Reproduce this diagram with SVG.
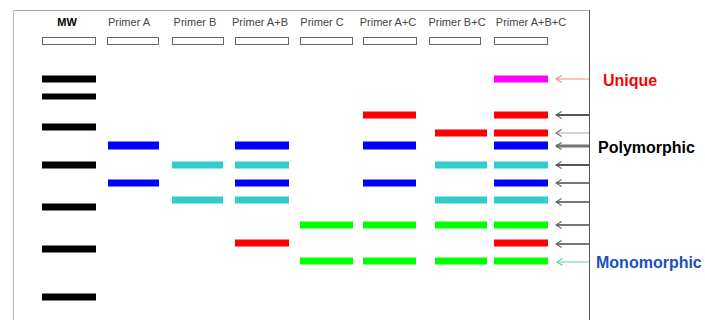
<svg xmlns="http://www.w3.org/2000/svg" width="705" height="320" viewBox="0 0 705 320">
<defs>
<marker id="ahg" viewBox="0 0 10 10" refX="1" refY="5" markerWidth="7" markerHeight="10" markerUnits="userSpaceOnUse">
<path d="M9,0 L1,5 L9,10" fill="none" stroke="#666" stroke-width="1.5"/>
</marker>
<marker id="ahr" viewBox="0 0 10 10" refX="1" refY="5" markerWidth="7" markerHeight="10" markerUnits="userSpaceOnUse">
<path d="M9,0 L1,5 L9,10" fill="none" stroke="#ff8080" stroke-width="1.5"/>
</marker>
<marker id="ahm" viewBox="0 0 10 10" refX="1" refY="5" markerWidth="7" markerHeight="10" markerUnits="userSpaceOnUse">
<path d="M9,0 L1,5 L9,10" fill="none" stroke="#66cc99" stroke-width="1.5"/>
</marker>
</defs>
<style>
.hdr{font-family:"Liberation Sans",Arial,sans-serif;font-size:11px;fill:#444;text-anchor:middle}
.mw{font-weight:bold;fill:#000}
.well{fill:#fff;stroke:#666;stroke-width:1}
.k{fill:#000}.b{fill:#0000ff}.c{fill:#33cccc}.r{fill:#ff0000}.g{fill:#00ff00}.m{fill:#ff00ff}
.lbl{font-family:"Liberation Sans",Arial,sans-serif;font-size:16px;font-weight:bold}
.arr{stroke:#777;stroke-width:2;fill:none;marker-end:url(#ahg)}
</style>
<rect width="705" height="320" fill="#fff"/>
<g id="frame">
<line x1="13" y1="10.5" x2="589" y2="10.5" stroke="#aaa"/>
<line x1="13.5" y1="10" x2="13.5" y2="320" stroke="#bbb"/>
<line x1="589.5" y1="10" x2="589.5" y2="320" stroke="#555"/>
</g>
<g id="lane-mw">
<text class="hdr mw" x="67" y="26">MW</text>
<rect class="well" x="42.5" y="37.5" width="53" height="7"/>
<rect class="k" x="42" y="75.5" width="54" height="7"/>
<rect class="k" x="42" y="93.5" width="54" height="6"/>
<rect class="k" x="42" y="123.5" width="54" height="7"/>
<rect class="k" x="42" y="161.5" width="54" height="7"/>
<rect class="k" x="42" y="203.5" width="54" height="7"/>
<rect class="k" x="42" y="245.5" width="54" height="7"/>
<rect class="k" x="42" y="293.5" width="54" height="7"/>
</g>
<g id="lane-a">
<text class="hdr" x="129" y="26">Primer A</text>
<rect class="well" x="107.5" y="37.5" width="51" height="7"/>
<rect class="b" x="108" y="141.5" width="51" height="8"/>
<rect class="b" x="108" y="179.5" width="51" height="7"/>
</g>
<g id="lane-b">
<text class="hdr" x="195" y="26">Primer B</text>
<rect class="well" x="172.5" y="37.5" width="51" height="7"/>
<rect class="c" x="172" y="161.5" width="51" height="7"/>
<rect class="c" x="172" y="196.5" width="51" height="7"/>
</g>
<g id="lane-ab">
<text class="hdr" x="260" y="26">Primer A+B</text>
<rect class="well" x="235.5" y="37.5" width="53" height="7"/>
<rect class="b" x="235" y="141.5" width="54" height="8"/>
<rect class="c" x="235" y="161.5" width="54" height="7"/>
<rect class="b" x="235" y="179.5" width="54" height="7"/>
<rect class="c" x="235" y="196.5" width="54" height="7"/>
<rect class="r" x="235" y="239.5" width="54" height="7"/>
</g>
<g id="lane-c">
<text class="hdr" x="322" y="26">Primer C</text>
<rect class="well" x="300.5" y="37.5" width="52" height="7"/>
<rect class="g" x="300" y="221.5" width="53" height="7"/>
<rect class="g" x="300" y="257.5" width="53" height="7"/>
</g>
<g id="lane-ac">
<text class="hdr" x="388" y="26">Primer A+C</text>
<rect class="well" x="363.5" y="37.5" width="53" height="7"/>
<rect class="r" x="363" y="111.5" width="53" height="7"/>
<rect class="b" x="363" y="141.5" width="53" height="8"/>
<rect class="b" x="363" y="179.5" width="53" height="7"/>
<rect class="g" x="363" y="221.5" width="53" height="7"/>
<rect class="g" x="363" y="257.5" width="53" height="7"/>
</g>
<g id="lane-bc">
<text class="hdr" x="457" y="26">Primer B+C</text>
<rect class="well" x="429.5" y="37.5" width="51" height="7"/>
<rect class="r" x="435" y="129.5" width="52" height="7"/>
<rect class="c" x="435" y="161.5" width="52" height="7"/>
<rect class="c" x="435" y="196.5" width="52" height="7"/>
<rect class="g" x="435" y="221.5" width="52" height="7"/>
<rect class="g" x="435" y="257.5" width="52" height="7"/>
</g>
<g id="lane-abc">
<text class="hdr" x="531" y="26">Primer A+B+C</text>
<rect class="well" x="494.5" y="37.5" width="53" height="7"/>
<rect class="m" x="494" y="75.5" width="54" height="7"/>
<rect class="r" x="494" y="111.5" width="54" height="7"/>
<rect class="r" x="494" y="129.5" width="54" height="7"/>
<rect class="b" x="494" y="141.5" width="54" height="8"/>
<rect class="c" x="494" y="161.5" width="54" height="7"/>
<rect class="b" x="494" y="179.5" width="54" height="7"/>
<rect class="c" x="494" y="196.5" width="54" height="7"/>
<rect class="g" x="494" y="221.5" width="54" height="7"/>
<rect class="r" x="494" y="239.5" width="54" height="7"/>
<rect class="g" x="494" y="257.5" width="54" height="7"/>
</g>
<g id="connectors">
<line x1="589" y1="79" x2="556" y2="79" stroke="#ff8080" stroke-width="1" fill="none" marker-end="url(#ahr)"/>
<line class="arr" x1="589" y1="115" x2="556" y2="115" style="stroke:#555"/>
<line class="arr" x1="589" y1="133" x2="556" y2="133" style="stroke:#aaa;stroke-width:1"/>
<line class="arr" x1="589" y1="146" x2="556" y2="146" style="stroke-width:3"/>
<line class="arr" x1="589" y1="165" x2="556" y2="165" style="stroke:#555"/>
<line class="arr" x1="589" y1="183" x2="556" y2="183"/>
<line class="arr" x1="589" y1="202" x2="556" y2="202"/>
<line class="arr" x1="589" y1="225" x2="556" y2="225"/>
<line class="arr" x1="589" y1="244" x2="556" y2="244"/>
<line x1="589" y1="262" x2="557" y2="262" stroke="#66cc99" stroke-width="1" fill="none" marker-end="url(#ahm)"/>
</g>
<g id="labels">
<text class="lbl" x="603" y="86" fill="#ff0000">Unique</text>
<text class="lbl" x="598" y="153" fill="#000">Polymorphic</text>
<text class="lbl" x="596" y="268" fill="#1a50c0">Monomorphic</text>
</g>
</svg>
